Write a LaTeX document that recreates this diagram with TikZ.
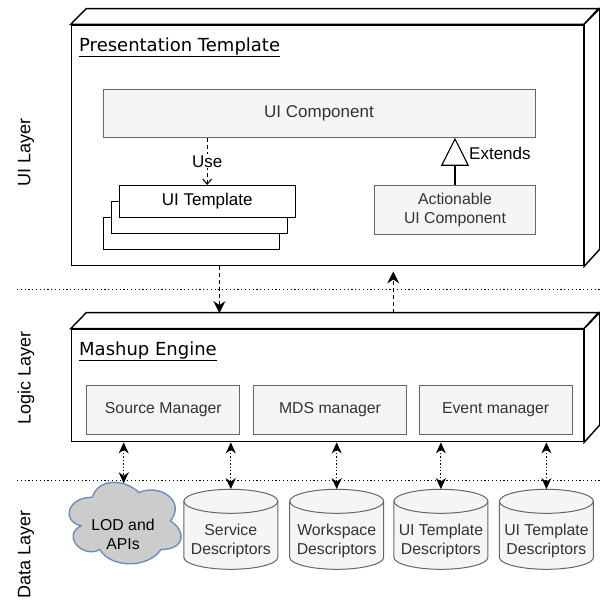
\documentclass[tikz,border=0pt]{standalone}
\usepackage{fontspec}
\setmainfont{Liberation Sans}
\newfontfamily\titlefont{DejaVu Sans}
\usetikzlibrary{arrows.meta}
\definecolor{boxfill}{HTML}{F5F5F5}
\definecolor{boxline}{HTML}{666666}
\definecolor{txtgray}{HTML}{333333}
\definecolor{cloudfill}{HTML}{CCCCCC}
\definecolor{cloudline}{HTML}{6C8EBF}
\begin{document}
\begin{tikzpicture}[x=1pt,y=-1pt,
  frontface/.style={draw=black, line width=1.4pt, fill=white, inner sep=0pt},
  sideface/.style={draw=black, line width=1.4pt, fill=white, line join=miter},
  graybox/.style={draw=boxline, fill=boxfill, line width=1pt, inner sep=0pt, text=txtgray, align=center},
  tplbox/.style={draw=black, fill=white, line width=1.2pt, inner sep=0pt, minimum width=176pt, minimum height=32pt},
  bigtxt/.style={font=\fontsize{17}{20}\selectfont},
  midtxt/.style={font=\fontsize{15.8}{19}\selectfont},
  titletxt/.style={font=\titlefont\fontsize{18}{21}\selectfont, anchor=base west, inner sep=0pt},
  layertxt/.style={font=\fontsize{18}{21}\selectfont, rotate=90},
  layerarrow/.style={line width=1.1pt, dash pattern=on 4pt off 3pt, -{Stealth[length=12pt,width=12pt,inset=4pt]}},
  dataarrow/.style={line width=1.1pt, dash pattern=on 1.4pt off 2pt, {Stealth[length=11pt,width=10pt,inset=3.5pt]}-{Stealth[length=11pt,width=10pt,inset=3.5pt]}},
  sepline/.style={line width=1pt, dash pattern=on 1.2pt off 2.6pt},
  hidden/.style={inner sep=0pt, draw=none},
  dbbody/.style={draw=boxline, fill=boxfill, line width=1pt},
]
\useasboundingbox (0,0) rectangle (600,600);

% layer labels
\node[layertxt] (lblui) at (26,152.5) {UI Layer};
\node[layertxt] (lbllogic) at (26,378) {Logic Layer};
\node[layertxt] (lbldata) at (26,554) {Data Layer};

% separators
\coordinate (sepAl) at (17,289.5);
\coordinate (sepAr) at (600,289.5);
\coordinate (sepBl) at (17,480);
\coordinate (sepBr) at (600,480);
\draw[sepline] (sepAl) -- (sepAr);
\draw[sepline] (sepBl) -- (sepBr);

% ---------- Presentation Template 3D box
\node[frontface, minimum width=512pt, minimum height=240.7pt] (pres) at (327.4,145.35) {};
\draw[sideface] (pres.north west) -- ++(15.6,-15.7) -- ++(512,0) -- (pres.north east) -- cycle;
\draw[sideface] (pres.north east) -- ++(15.6,-15.7) -- ++(0,240.7) -- (pres.south east) -- cycle;
\node[titletxt] (prestitle) at (79,51.5) {\underline{Presentation Template}};

\node[graybox, bigtxt, minimum width=432pt, minimum height=48pt] (uic) at (319,113.3) {UI Component};

\node[tplbox] (tpl3) at (191.2,233.3) {};
\node[tplbox] (tpl2) at (199.2,217.3) {};
\node[tplbox, bigtxt] (tpl1) at (207.2,201.5) {UI Template};

\node[graybox, midtxt, minimum width=160.5pt, minimum height=48.3pt] (act) at (455,209.9) {Actionable\\UI Component};

\draw[line width=1.1pt, dash pattern=on 4pt off 3pt, -{Straight Barb[length=5pt,width=9pt]}]
  (uic.south -| tpl1.north) -- (tpl1.north)
  node[midway, fill=white, inner sep=1pt, bigtxt] (uselbl) {Use};

\draw[line width=1.1pt, -{Triangle[open, length=28pt, width=28pt, line width=1.1pt]}]
  (act.north) -- (uic.south -| act.north);
\node[bigtxt, anchor=west, inner sep=0pt] (extlbl) at (469,153.3) {Extends};

% ---------- Mashup Engine 3D box
\node[frontface, minimum width=512pt, minimum height=112.4pt] (mash) at (327.4,385.5) {};
\draw[sideface] (mash.north west) -- ++(15.6,-16) -- ++(512,0) -- (mash.north east) -- cycle;
\draw[sideface] (mash.north east) -- ++(15.6,-16) -- ++(0,112.4) -- (mash.south east) -- cycle;
\node[hidden, minimum width=512pt, minimum height=112.4pt] (mashback) at (343,369.5) {};
\node[titletxt] (mashtitle) at (79,355) {\underline{Mashup Engine}};

\node[graybox, midtxt, minimum width=153pt, minimum height=49pt] (src) at (163.35,409.5) {Source Manager};
\node[graybox, midtxt, minimum width=153pt, minimum height=49pt] (mds) at (330,409.5) {MDS manager};
\node[graybox, midtxt, minimum width=153pt, minimum height=49pt] (evt) at (495.6,409.5) {Event manager};

% inter-layer arrows
\coordinate (downx) at (219.4,0);
\coordinate (upx) at (393.3,0);
\draw[layerarrow] (pres.south -| downx) -- (mashback.north -| downx);
\draw[layerarrow, shorten >=5pt] (mashback.north -| upx) -- (pres.south -| upx);

% ---------- Data layer
% cloud
\draw[draw=cloudline, fill=cloudfill, line width=1.4pt]
  (92.25,497.25) .. controls (67.25,497.25) and (61,521) .. (81,525.75)
  .. controls (61,536.2) and (83.5,559) .. (99.75,549.5)
  .. controls (111,568.5) and (148.5,568.5) .. (161,549.5)
  .. controls (186,549.5) and (186,530.5) .. (170.4,521)
  .. controls (186,502) and (161,483) .. (139.1,492.5)
  .. controls (123.5,478.25) and (98.5,478.25) .. (92.25,497.25) -- cycle;
\node[midtxt, align=center, text=black, inner sep=0pt] (lod) at (123,534.5) {LOD and\\APIs};
\coordinate (lodtop) at (123.7,483.3);

% cylinders
\newcommand{\dbcyl}[4]{%
  \node[hidden, minimum width=94pt, minimum height=80pt] (#2) at (#1,529.3) {};
  \begin{scope}[shift={(#1,0)}]
    \draw[dbbody] (-47,501.3) -- (-47,557.3)
      .. controls (-47,563.93) and (-25.96,569.3) .. (0,569.3)
      .. controls (25.96,569.3) and (47,563.93) .. (47,557.3)
      -- (47,501.3)
      .. controls (47,494.67) and (25.96,489.3) .. (0,489.3)
      .. controls (-25.96,489.3) and (-47,494.67) .. (-47,501.3) -- cycle;
    \draw[draw=boxline, line width=1pt] (-47,501.3)
      .. controls (-47,507.93) and (-25.96,513.3) .. (0,513.3)
      .. controls (25.96,513.3) and (47,507.93) .. (47,501.3);
  \end{scope}
  \node[midtxt, align=center, text=txtgray, inner sep=0pt] (#3) at (#1,541) {#4};
}
\dbcyl{230.8}{svc}{svct}{Service\\Descriptors}
\dbcyl{336.7}{wsp}{wspt}{Workspace\\Descriptors}
\dbcyl{440.9}{uit}{uitt}{UI Template\\Descriptors}
\dbcyl{546.4}{uit2}{uit2t}{UI Template\\Descriptors}

% data arrows
\draw[dataarrow] (mash.south -| lodtop) -- (lodtop);
\draw[dataarrow] (mash.south -| svc.north) -- (svc.north);
\draw[dataarrow] (mash.south -| wsp.north) -- (wsp.north);
\draw[dataarrow] (mash.south -| uit.north) -- (uit.north);
\draw[dataarrow] (mash.south -| uit2.north) -- (uit2.north);
\end{tikzpicture}
\end{document}
